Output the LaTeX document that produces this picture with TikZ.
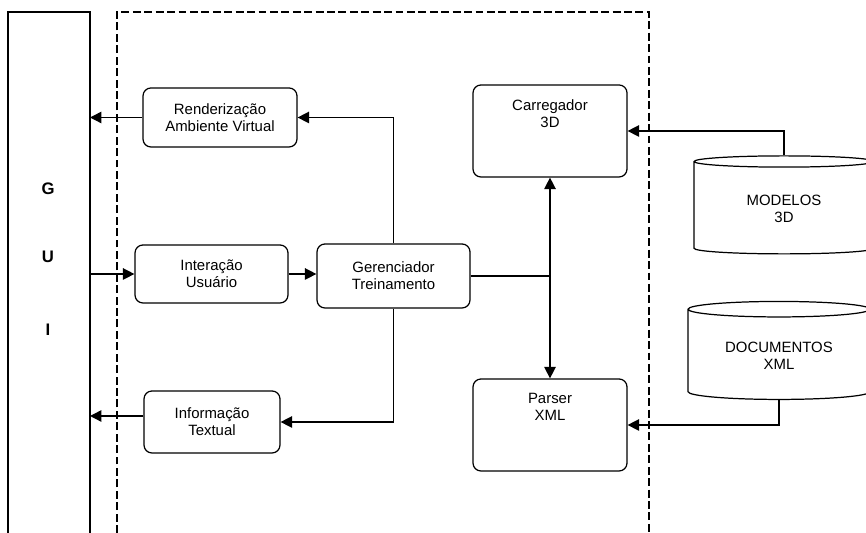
\documentclass[tikz,border=0pt]{standalone}
\usepackage{fontspec}
\setmainfont{Liberation Sans}
\usetikzlibrary{arrows.meta,positioning,shapes.geometric}

\begin{document}
\begin{tikzpicture}[
        font=\fontsize{8.5}{9.7}\selectfont,
        box/.style={draw, line width=0.7pt, rounded corners=4.5pt, align=center},
        bigbox/.style={box, minimum width=3.08cm, minimum height=1.84cm},
        db/.style={draw, line width=0.7pt, cylinder, shape border rotate=90, aspect=0.13,
                   minimum height=1.96cm, align=center},
        arr/.style={line width=0.8pt, -{Triangle[length=6.5pt,width=6.5pt]}}
    ]
    \useasboundingbox (0,0) rectangle (17.32,10.66);

    % GUI bar
    \draw[line width=0.7pt] (0.16,0) -- (0.16,10.42) -- (1.80,10.42) -- (1.80,0);
    \coordinate (guiR) at (1.80,0);
    \node[font=\fontsize{9.5}{11}\selectfont\bfseries] (g) at (0.96,6.88) {G};
    \node[font=\fontsize{9.5}{11}\selectfont\bfseries] (u) at (0.96,5.52) {U};
    \node[font=\fontsize{9.5}{11}\selectfont\bfseries] (i) at (0.96,4.06) {I};

    % system border
    \draw[line width=0.7pt, dash pattern=on 4.5pt off 2pt] (2.34,0) -- (2.34,10.42) -- (12.98,10.42) -- (12.98,0);

    \node[box, minimum width=3.08cm, minimum height=1.18cm] (rend) at (4.40,8.31) {Renderização\\Ambiente Virtual};
    \node[box, minimum width=3.06cm, minimum height=1.16cm] (inter) at (4.23,5.18) {Interação\\Usuário};
    \node[box, minimum width=3.06cm, minimum height=1.28cm] (geren) at (7.87,5.14) {Gerenciador\\Treinamento};
    \node[box, minimum width=2.72cm, minimum height=1.24cm] (info) at (4.24,2.22) {Informação\\Textual};

    \node[bigbox, label={[anchor=north, align=center, yshift=-0.18cm]north:Carregador\\3D}] (carr) at (11.00,8.04) {};
    \node[bigbox, label={[anchor=north, align=center, yshift=-0.18cm]north:Parser\\XML}] (parser) at (11.00,2.16) {};

    \node[db, minimum width=3.6cm] (modelos) at (15.68,6.48) {MODELOS\\3D};
    \node[db, minimum width=3.64cm] (docs) at (15.58,3.54) {DOCUMENTOS\\XML};

    % connections
    \draw[arr] (rend.west) -- (rend.west -| guiR);
    \draw[arr] (guiR |- inter.west) -- (inter.west);
    \draw[arr] (inter.east) -- (inter.east -| geren.west);
    \draw[arr] (geren.north) |- (rend.east);
    \draw[arr] (geren.south) |- (info.east);
    \draw[arr] ([yshift=0.12cm]info.west) -- ([yshift=0.12cm]info.west -| guiR);

    \coordinate (junc) at (geren.east -| carr.south);
    \draw[line width=0.8pt] (geren.east) -- (junc);
    \draw[arr] (junc) -- (carr.south);
    \draw[arr] (junc) -- (parser.north);

    \draw[arr] (modelos.north) |- (carr.east);
    \draw[arr] (docs.south) |- (parser.east);
\end{tikzpicture}
\end{document}
